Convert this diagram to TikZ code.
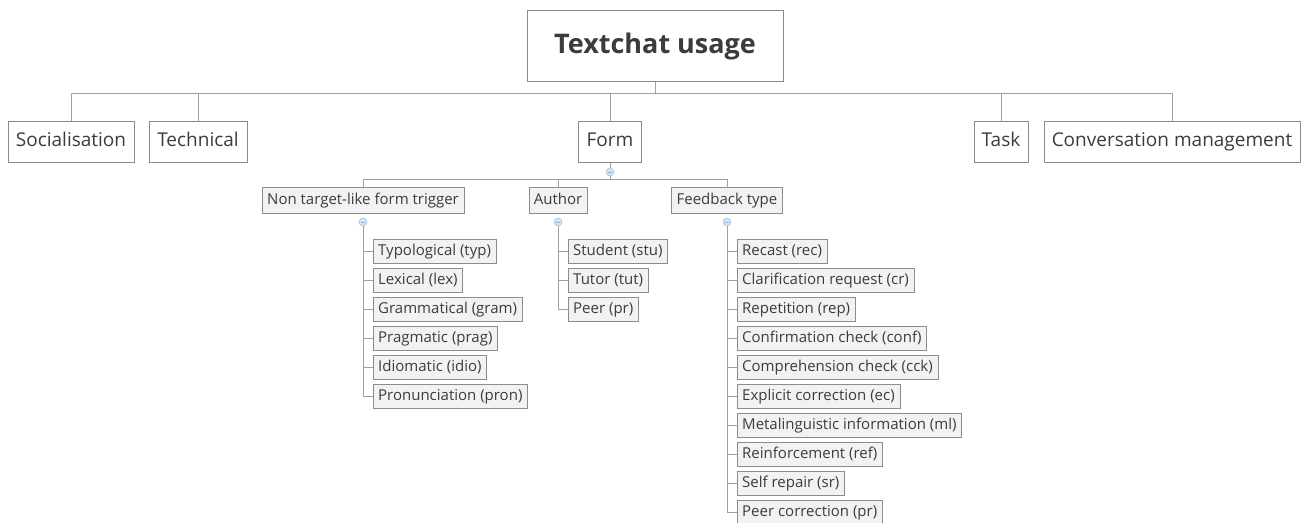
\documentclass[tikz,border=0pt]{standalone}
\usepackage{fontspec}
\setmainfont{Open Sans}
\usetikzlibrary{positioning}
\definecolor{boxline}{HTML}{8C8C8C}
\definecolor{wire}{HTML}{A0A0A0}
\definecolor{ink}{HTML}{3C3C3C}
\definecolor{leaffill}{HTML}{F2F2F2}
\definecolor{knobfill}{HTML}{D6E4F5}
\definecolor{knobline}{HTML}{8FB0DC}

\begin{document}
\begin{tikzpicture}[x=1pt,y=-1pt,text=ink,
root/.style={draw=boxline,fill=white,minimum width=256pt,minimum height=71pt,font=\fontsize{27}{30}\selectfont\bfseries},
topic/.style={draw=boxline,fill=white,minimum height=41pt,inner xsep=8pt,text height=0.8em,text depth=0pt,font=\fontsize{19}{22}\selectfont},
branch/.style={draw=boxline,fill=leaffill,minimum height=26pt,inner xsep=5pt,text height=0.8em,text depth=0pt,font=\fontsize{15}{17}\selectfont},
leaf/.style={draw=boxline,fill=leaffill,minimum height=24pt,inner xsep=5pt,text height=0.8em,text depth=0pt,anchor=west,font=\fontsize{15}{17}\selectfont},
link/.style={draw=wire,line width=0.9pt},
knob/.style={circle,draw=knobline,fill=knobfill,minimum size=8pt,inner sep=0pt,
  path picture={\draw[knobline,line width=0.8pt] ([xshift=-2pt]path picture bounding box.center) -- ([xshift=2pt]path picture bounding box.center);}}]
\useasboundingbox (0,0) rectangle (1308,522);

% central topic and main branches
\node[root] (title) at (655,46) {Textchat usage};
\node[topic] (soc) at (71,142) {Socialisation};
\node[topic] (tech) at (198,142) {Technical};
\node[topic] (form) at (610,142) {Form};
\node[topic] (task) at (1001,142) {Task};
\node[topic] (conv) at (1172,142) {Conversation management};
\coordinate (bus) at (655,93);
\draw[link] (title.south) -- (bus);
\draw[link] (soc.north |- bus) -- (conv.north |- bus);
\foreach \n in {soc,tech,form,task,conv}
  \draw[link] (\n.north) -- (\n.north |- bus);

% form subtopics
\node[knob] (kform) at (610,172) {};
\node[branch] (ntl) at (363,200) {Non target-like form trigger};
\node[branch] (auth) at (558,200) {Author};
\node[branch] (fbt) at (727,200) {Feedback type};
\coordinate (bus2) at (610,179);
\draw[link] (form.south) -- (kform);
\draw[link] (kform) -- (bus2);
\draw[link] (ntl.north |- bus2) -- (fbt.north |- bus2);
\foreach \n in {ntl,auth,fbt}
  \draw[link] (\n.north) -- (\n.north |- bus2);
\node[knob] (kntl) at (363,222) {};
\node[knob] (kauth) at (558,222) {};
\node[knob] (kfbt) at (727,222) {};

% triggers
\foreach \name/\txt [count=\i from 0] in {typ/Typological (typ),lex/Lexical (lex),gram/Grammatical (gram),prag/Pragmatic (prag),idio/Idiomatic (idio),pron/Pronunciation (pron)}
  \node[leaf] (\name) at (373,251+29*\i) {\txt};
\draw[link] (kntl) |- (pron.west);
\foreach \name in {typ,lex,gram,prag,idio}
  \draw[link] (kntl |- \name.west) -- (\name.west);

% authors
\foreach \name/\txt [count=\i from 0] in {stu/Student (stu),tut/Tutor (tut),peer/Peer (pr)}
  \node[leaf] (\name) at (568,251+29*\i) {\txt};
\draw[link] (kauth) |- (peer.west);
\foreach \name in {stu,tut}
  \draw[link] (kauth |- \name.west) -- (\name.west);

% feedback types
\foreach \name/\txt [count=\i from 0] in {rec/Recast (rec),cr/Clarification request (cr),rep/Repetition (rep),conf/Confirmation check (conf),cck/Comprehension check (cck),ec/Explicit correction (ec),ml/Metalinguistic information (ml),ref/Reinforcement (ref),sr/Self repair (sr),pcorr/Peer correction (pr)}
  \node[leaf] (\name) at (737,251+29*\i) {\txt};
\draw[link] (kfbt) |- (pcorr.west);
\foreach \name in {rec,cr,rep,conf,cck,ec,ml,ref,sr}
  \draw[link] (kfbt |- \name.west) -- (\name.west);
\end{tikzpicture}
\end{document}
